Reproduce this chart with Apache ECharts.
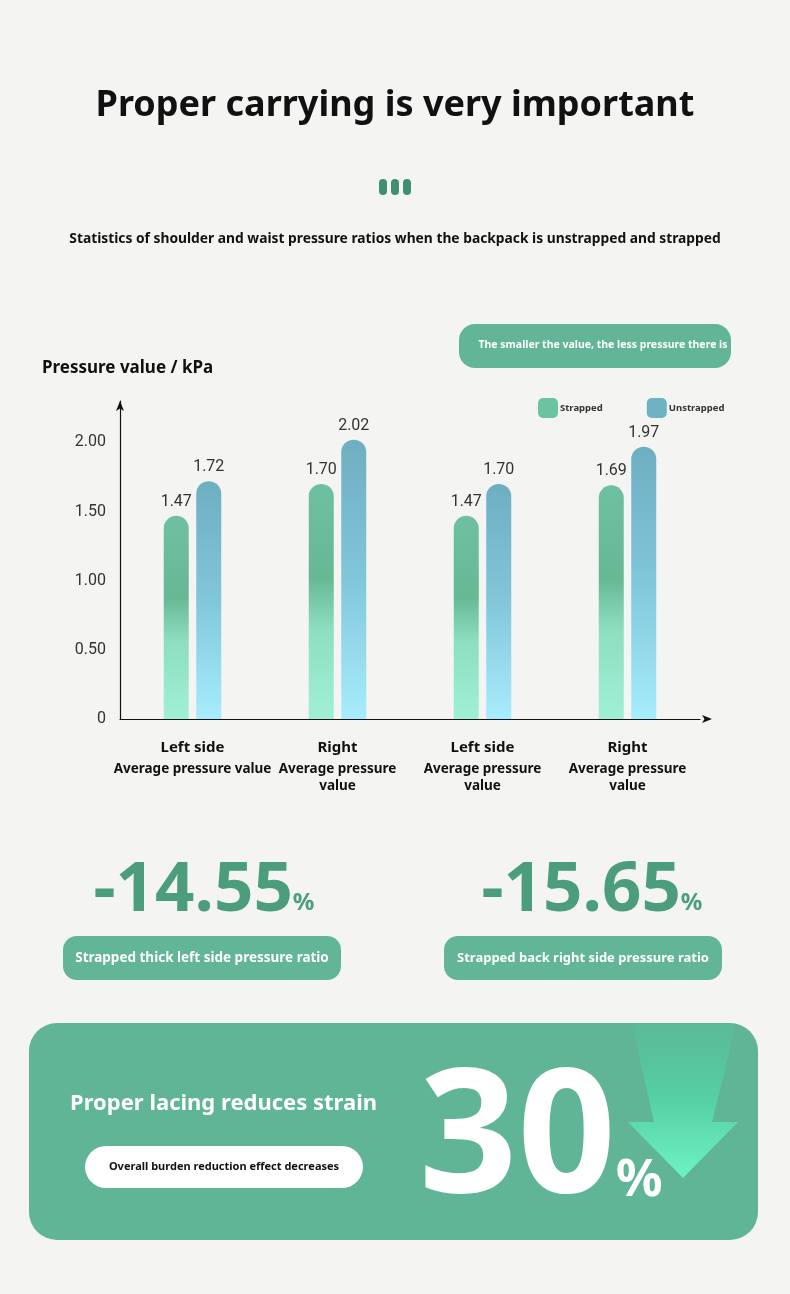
<!DOCTYPE html>
<html><head><meta charset="utf-8">
<script src="https://cdn.jsdelivr.net/npm/echarts@6/dist/echarts.min.js"></script>
<style>html,body{margin:0;padding:0;background:#f4f4f3;}#c{width:790px;height:1294px;}</style>
</head><body><div id="c"></div>
<script>
const categories = ['Left side\nAverage pressure value', 'Right\nAverage pressure\nvalue', 'Left side\nAverage pressure\nvalue', 'Right\nAverage pressure\nvalue'];
const seriesNames = ['Strapped', 'Unstrapped'];
const strapped = [1.47, 1.70, 1.47, 1.69];
const unstrapped = [1.72, 2.02, 1.70, 1.97];
const yTicks = [0, 0.5, 1.0, 1.5, 2.0];
const stats = ['-14.55', '-15.65'];
const statNotes = ['Strapped thick left side pressure ratio', 'Strapped back right side pressure ratio'];
const overall = '30';

const chart = echarts.init(document.getElementById('c'));
const G = echarts.graphic;
const greenGrad = new G.LinearGradient(0,0,0,1,[{offset:0,color:'#6ec0a0'},{offset:0.4,color:'#67b895'},{offset:0.62,color:'#8ddfc0'},{offset:1,color:'#a0f0d6'}]);
const blueGrad = new G.LinearGradient(0,0,0,1,[{offset:0,color:'#6eaec1'},{offset:0.5,color:'#82c6da'},{offset:1,color:'#a8edfc'}]);
const font = '"Noto Sans", sans-serif';

chart.setOption({
  backgroundColor: '#f4f4f3',
  textStyle: {fontFamily: font},
  legend: {
    data: [
      {name: seriesNames[0], itemStyle: {color: '#6cc3a0'}},
      {name: seriesNames[1], itemStyle: {color: '#6fb2c4'}}
    ],
    left: 533, top: 393, itemWidth: 20, itemHeight: 20, itemGap: 44,
    icon: 'roundRect',
    textStyle: {fontSize: 9.5, fontWeight: 'bold', color: '#333', padding: [0,0,0,-3]}
  },
  grid: {left: 120, width: 580, top: 401, bottom: 575},
  xAxis: {
    type: 'category', data: categories,
    axisLine: {lineStyle: {color: '#111', width: 1.2}, symbol: ['none','arrow'], symbolSize: [6,10], symbolOffset: [0,12]},
    axisTick: {show: false},
    axisLabel: {
      margin: 16, interval: 0,
      formatter: v => v.split('\n').map((l,i)=>'{' + (i===0?'a':'b') + '|' + l + '}').join('\n'),
      rich: {
        a: {fontSize: 15, fontWeight: 'bold', color: '#111', lineHeight: 26, fontFamily: font},
        b: {fontSize: 13.5, fontWeight: 'bold', color: '#111', lineHeight: 17, fontFamily: font}
      }
    }
  },
  yAxis: {
    type: 'value', min: 0, max: 2.3, interval: 0.5,
    axisLine: {show: true, lineStyle: {color: '#111', width: 1.2}, symbol: ['none','arrow'], symbolSize: [6,10]},
    axisTick: {show: false}, splitLine: {show: false},
    axisLabel: {showMaxLabel: false, margin: 14, fontSize: 16, color: '#333', fontFamily: 'Roboto',
      formatter: v => yTicks.indexOf(v) === 0 ? '0' : v.toFixed(2)}
  },
  series: [
    {name: seriesNames[0], type: 'bar', data: strapped, barWidth: 25, barGap: '30%',
     itemStyle: {color: greenGrad, borderRadius: [13,13,0,0]},
     label: {show: true, position: 'top', distance: 6, fontSize: 16, color: '#333', fontFamily: 'Roboto', formatter: p => p.value.toFixed(2)}},
    {name: seriesNames[1], type: 'bar', data: unstrapped, barWidth: 25,
     itemStyle: {color: blueGrad, borderRadius: [13,13,0,0]},
     label: {show: true, position: 'top', distance: 6, fontSize: 16, color: '#333', fontFamily: 'Roboto', formatter: p => p.value.toFixed(2)}}
  ],
  graphic: [
    {type:'text', left:'center', top: 88, style:{text:'Proper carrying is very important', font:'bold 36px "Noto Sans"', fill:'#111'}},
    {type:'rect', left: 379, top: 179, shape:{width:8,height:16,r:4}, style:{fill:'#3f8f70'}},
    {type:'rect', left: 391, top: 179, shape:{width:8,height:16,r:4}, style:{fill:'#3f8f70'}},
    {type:'rect', left: 403, top: 179, shape:{width:8,height:16,r:4}, style:{fill:'#3f8f70'}},
    {type:'text', left:'center', top: 232, style:{text:'Statistics of shoulder and waist pressure ratios when the backpack is unstrapped and strapped', font:'bold 13.8px "Noto Sans"', fill:'#111'}},
    {type:'rect', left: 459, top: 324, shape:{width:272,height:44,r:16}, style:{fill:'#62b597'}},
    {type:'text', x: 603, y: 345, style:{text:'The smaller the value, the less pressure there is', font:'bold 10.5px "Noto Sans"', fill:'#fff', textAlign:'center', textVerticalAlign:'middle'}},
    {type:'text', left: 42, top: 360, style:{text:'Pressure value / kPa', font:'bold 17px "Noto Sans"', fill:'#111'}},

    {type:'text', x: 204, y: 891, style:{text:'{n|' + stats[0] + '}{p|%}', textAlign:'center', textVerticalAlign:'middle', rich:{n:{font:'bold 69px "Noto Sans"', fill:'#4b9d7c'}, p:{font:'bold 24px "Noto Sans"', fill:'#4b9d7c', padding:[24,0,0,0]}}}},
    {type:'text', x: 592, y: 891, style:{text:'{n|' + stats[1] + '}{p|%}', textAlign:'center', textVerticalAlign:'middle', rich:{n:{font:'bold 69px "Noto Sans"', fill:'#4b9d7c'}, p:{font:'bold 24px "Noto Sans"', fill:'#4b9d7c', padding:[24,0,0,0]}}}},
    {type:'rect', left: 63, top: 936, shape:{width:278,height:44,r:14}, style:{fill:'#62b597'}},
    {type:'text', x: 202, y: 958, style:{text: statNotes[0], font:'bold 13.5px "Noto Sans"', fill:'#fff', textAlign:'center', textVerticalAlign:'middle'}},
    {type:'rect', left: 444, top: 936, shape:{width:278,height:44,r:14}, style:{fill:'#62b597'}},
    {type:'text', x: 583, y: 958, style:{text: statNotes[1], font:'bold 13px "Noto Sans"', fill:'#fff', textAlign:'center', textVerticalAlign:'middle'}},

    {type:'rect', left: 29, top: 1023, shape:{width:729,height:217,r:28}, style:{fill:'#60b596'}},
    {type:'polygon', shape:{points:[[632,1024],[736,1024],[712,1122],[738,1122],[683,1178],[628,1122],[654,1122]]},
     style:{fill: new G.LinearGradient(0,0,0,1,[{offset:0,color:'rgba(80,200,160,0.3)'},{offset:0.5,color:'#56d1a6'},{offset:1,color:'#6ff2c3'}])}},
    {type:'text', left: 70, top: 1093, style:{text:'Proper lacing reduces strain', font:'bold 22px "Noto Sans"', fill:'#fff'}},
    {type:'rect', left: 85, top: 1146, shape:{width:278,height:42,r:21}, style:{fill:'#fff'}},
    {type:'text', x: 224, y: 1167, style:{text:'Overall burden reduction effect decreases', font:'bold 11px "Noto Sans"', fill:'#111', textAlign:'center', textVerticalAlign:'middle'}},
    {type:'text', x: 419, y: 1143, style:{text:'{n|' + overall + '}{p|%}', textVerticalAlign:'middle', rich:{n:{font:'bold 172px "Noto Sans"', fill:'#fff'}, p:{font:'bold 52px "Noto Sans"', fill:'#fff', padding:[76,0,0,0]}}}}
  ]
});
</script></body></html>
